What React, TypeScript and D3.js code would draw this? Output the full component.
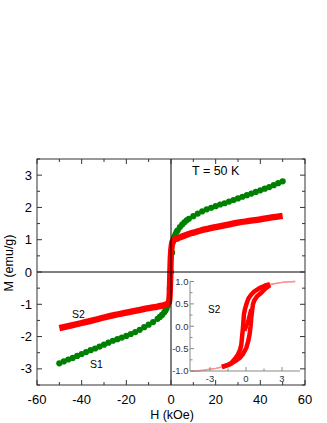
import React from "react";
import * as d3 from "d3";

// ---- Main plot data ----
const s1H = [-50, -48, -46, -44, -42, -40, -38, -36, -34, -32, -30, -28, -26, -24, -22, -20, -18, -16, -14, -12, -10, -8, -6, -5, -4, -3, -2.5, -2, -1.5, -1, -0.5, 0, 0.5, 0.8, 1.2, 1.6, 2, 2.5, 3, 4, 5, 6, 7, 8, 10, 12, 14, 16, 18, 20, 22, 24, 26, 28, 30, 32, 34, 36, 38, 40, 42, 44, 46, 48, 50];
const s1M = [-2.83, -2.77, -2.71, -2.66, -2.6, -2.54, -2.48, -2.42, -2.37, -2.31, -2.25, -2.19, -2.13, -2.08, -2.03, -1.98, -1.92, -1.86, -1.79, -1.71, -1.63, -1.55, -1.45, -1.39, -1.33, -1.25, -1.19, -1.13, -1.04, -0.93, -0.5, 0.0, 0.6, 0.92, 1.02, 1.1, 1.17, 1.24, 1.29, 1.39, 1.47, 1.54, 1.6, 1.65, 1.73, 1.81, 1.88, 1.94, 1.99, 2.04, 2.09, 2.13, 2.18, 2.23, 2.28, 2.33, 2.38, 2.43, 2.48, 2.53, 2.58, 2.63, 2.69, 2.75, 2.81];

const s2H = [-50, -45, -40, -35, -30, -25, -20, -15, -10, -6, -4, -2, -1.2, -0.8, -0.55, -0.4, -0.3, -0.15, 0.05, 0.35, 0.7, 1.2, 2, 3, 5, 8, 10, 13, 16, 20, 25, 30, 35, 40, 45, 50];
const s2M = [-1.74, -1.66, -1.58, -1.5, -1.41, -1.33, -1.26, -1.19, -1.12, -1.07, -1.04, -1.0, -0.96, -0.88, -0.65, -0.3, 0.0, 0.35, 0.62, 0.82, 0.94, 0.99, 1.02, 1.04, 1.1, 1.18, 1.22, 1.28, 1.33, 1.39, 1.46, 1.53, 1.58, 1.63, 1.69, 1.74];

// ---- Inset data (S2 loop) ----
const insDescH = [4.1, 3.5, 3.0, 2.5, 2.0, 1.6, 1.28, 1.0, 0.7, 0.44, 0.2, 0.03, -0.08, -0.17, -0.25, -0.32, -0.39, -0.5, -0.67, -0.9, -1.22, -1.5, -2.0, -2.5, -3.0, -3.5, -4.1, -4.6];
const insDescM = [1.0, 0.99, 0.98, 0.96, 0.94, 0.91, 0.87, 0.83, 0.78, 0.71, 0.62, 0.49, 0.39, 0.27, -0.03, -0.22, -0.41, -0.53, -0.63, -0.72, -0.82, -0.86, -0.91, -0.94, -0.96, -0.98, -1.0, -1.01];
const insAscH = [-4.6, -4.1, -3.5, -3.0, -2.5, -2.0, -1.5, -1.2, -0.9, -0.53, -0.25, 0.03, 0.18, 0.3, 0.38, 0.44, 0.51, 0.58, 0.7, 0.9, 1.1, 1.28, 1.6, 2.0, 2.5, 3.0, 3.5, 4.1];
const insAscM = [-1.01, -1.0, -0.98, -0.96, -0.94, -0.91, -0.87, -0.83, -0.78, -0.71, -0.62, -0.48, -0.34, -0.18, 0.0, 0.19, 0.35, 0.49, 0.58, 0.66, 0.71, 0.75, 0.84, 0.92, 0.96, 0.98, 0.99, 1.0];
const insVirH = [-0.12, 0.0, 0.1, 0.2, 0.3, 0.42];
const insVirM = [-0.1, -0.02, 0.06, 0.15, 0.25, 0.38];

// ---- Ticks ----
const xTicks = [-60, -40, -20, 0, 20, 40, 60];
const xMinor = [-50, -30, -10, 10, 30, 50];
const yTicks = [-3, -2, -1, 0, 1, 2, 3];
const yMinor = [-3.5, -2.5, -1.5, -0.5, 0.5, 1.5, 2.5, 3.5];
const insXTicks = [-3, 0, 3];
const insXMinor = [-1.5, 1.5];
const insYTicks = [-1, -0.5, 0, 0.5, 1];
const insYMinor = [-0.75, -0.25, 0.25, 0.75];

const FONT = "'Liberation Sans', Arial, sans-serif";

const zip = (a: number[], b: number[]) => a.map((v, i) => [v, b[i]] as [number, number]);

export default function App() {
  const x = d3.scaleLinear().domain([-60, 60]).range([37, 305]);
  const y = d3.scaleLinear().domain([-3.5, 3.5]).range([385, 159]);
  const ix = d3.scaleLinear().domain([-4.667, 4.5]).range([190, 300]);
  const iy = d3.scaleLinear().domain([-1, 1]).range([371, 281.5]);

  const line = d3.line<[number, number]>().x(d => x(d[0])).y(d => y(d[1])).curve(d3.curveMonotoneX);
  const iline = d3.line<[number, number]>().x(d => ix(d[0])).y(d => iy(d[1]));

  const s1 = zip(s1H, s1M);
  const s2 = zip(s2H, s2M);
  const desc = zip(insDescH, insDescM);
  const asc = zip(insAscH, insAscM);
  const vir = zip(insVirH, insVirM);
  const thick = (p: [number, number][]) => p.filter(d => Math.abs(d[0]) <= 2.0);

  const [x0, x1] = x.range();
  const [yb, yt] = y.range();
  const frame = "#333";

  return (
    <svg width={327} height={423} style={{ position: "absolute", left: 0, top: 0, background: "#fff" }} fontFamily={FONT}>
      {/* S1 green dots */}
      {s1.map((d, i) => (
        <circle key={"g" + i} cx={x(d[0])} cy={y(d[1])} r={3.1} fill="#008000" />
      ))}
      {/* S2 red band */}
      <path d={line(s2) || ""} fill="none" stroke="#ff0000" strokeWidth={6.3} strokeLinejoin="round" />

      {/* zero lines */}
      <line x1={x(0)} x2={x(0)} y1={yt} y2={yb} stroke="#000" strokeWidth={1} />
      <line x1={x0} x2={x1} y1={y(0)} y2={y(0)} stroke="#000" strokeWidth={1} />

      {/* frame */}
      <rect x={x0} y={yt} width={x1 - x0} height={yb - yt} fill="none" stroke={frame} strokeWidth={1} />
      {xTicks.map(t => (
        <g key={"xt" + t}>
          <line x1={x(t)} x2={x(t)} y1={yb} y2={yb - 5} stroke={frame} />
          <line x1={x(t)} x2={x(t)} y1={yt} y2={yt + 5} stroke={frame} />
          <text x={x(t)} y={404} fontSize={13} textAnchor="middle" fill="#000">{t}</text>
        </g>
      ))}
      {xMinor.map(t => (
        <g key={"xm" + t}>
          <line x1={x(t)} x2={x(t)} y1={yb} y2={yb - 3} stroke={frame} />
          <line x1={x(t)} x2={x(t)} y1={yt} y2={yt + 3} stroke={frame} />
        </g>
      ))}
      {yTicks.map(t => (
        <g key={"yt" + t}>
          <line x1={x0} x2={x0 + 5} y1={y(t)} y2={y(t)} stroke={frame} />
          <line x1={x1} x2={x1 - 5} y1={y(t)} y2={y(t)} stroke={frame} />
          <text x={32} y={y(t) + 4.6} fontSize={13} textAnchor="end" fill="#000">{t}</text>
        </g>
      ))}
      {yMinor.map(t => (
        <g key={"ym" + t}>
          <line x1={x0} x2={x0 + 3} y1={y(t)} y2={y(t)} stroke={frame} />
          <line x1={x1} x2={x1 - 3} y1={y(t)} y2={y(t)} stroke={frame} />
        </g>
      ))}

      {/* axis titles */}
      <text x={172} y={419} fontSize={12.5} textAnchor="middle" fill="#000">H (kOe)</text>
      <text transform="translate(13,263) rotate(-90)" fontSize={12.5} textAnchor="middle" fill="#000">M (emu/g)</text>

      {/* annotations */}
      <text x={192} y={175} fontSize={12.5} fill="#000">T = 50 K</text>
      <text x={72} y={318} fontSize={10.5} fill="#000">S2</text>
      <text x={90} y={368} fontSize={10.5} fill="#000">S1</text>

      {/* inset */}
      <path d={iline(desc) || ""} fill="none" stroke="#ff9090" strokeWidth={1.3} />
      <path d={iline(asc) || ""} fill="none" stroke="#ff9090" strokeWidth={1.3} />
      <path d={iline(thick(desc)) || ""} fill="none" stroke="#ff0000" strokeWidth={4.5} strokeLinejoin="round" />
      <path d={iline(thick(asc)) || ""} fill="none" stroke="#ff0000" strokeWidth={4.5} strokeLinejoin="round" />
      <path d={iline(vir) || ""} fill="none" stroke="#ff0000" strokeWidth={4} strokeLinejoin="round" />

      <line x1={190} x2={190} y1={281.5} y2={371} stroke="#888" strokeWidth={1} />
      <line x1={190} x2={300} y1={371} y2={371} stroke="#888" strokeWidth={1} />
      {insYTicks.map(t => (
        <g key={"iy" + t}>
          <line x1={190} x2={194} y1={iy(t)} y2={iy(t)} stroke="#888" />
          <text x={188.5} y={iy(t) + 3.3} fontSize={9.5} textAnchor="end" fill="#333">{t.toFixed(1)}</text>
        </g>
      ))}
      {insYMinor.map(t => (
        <line key={"iym" + t} x1={190} x2={192.5} y1={iy(t)} y2={iy(t)} stroke="#888" />
      ))}
      {insXTicks.map(t => (
        <g key={"ix" + t}>
          <line x1={ix(t)} x2={ix(t)} y1={371} y2={367} stroke="#888" />
          <text x={ix(t)} y={381.5} fontSize={9.5} textAnchor="middle" fill="#333">{t}</text>
        </g>
      ))}
      {insXMinor.map(t => (
        <line key={"ixm" + t} x1={ix(t)} x2={ix(t)} y1={371} y2={368.5} stroke="#888" />
      ))}
      <text x={208} y={313} fontSize={10} fill="#000">S2</text>
    </svg>
  );
}
